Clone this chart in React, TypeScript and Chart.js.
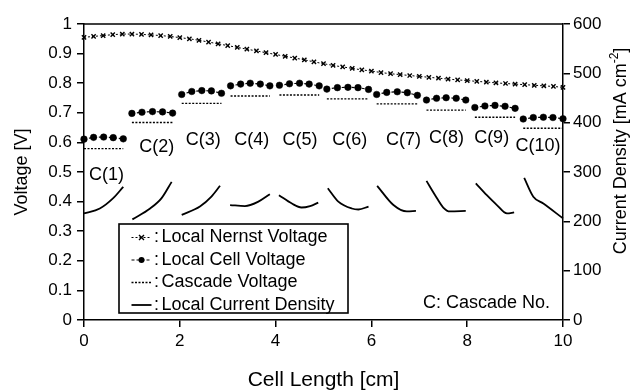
import React, { useEffect, useRef } from "react";
import { Chart, registerables } from "chart.js";

Chart.register(...registerables);

const FONT = "'Liberation Sans', Arial, Helvetica, sans-serif";

// Local Nernst voltage [V] along the cell length [cm]
const nernstX = [
  0, 0.2, 0.4, 0.6, 0.8, 1.0, 1.2, 1.4, 1.6, 1.8, 2.0, 2.2, 2.4, 2.6, 2.8, 3.0, 3.2,
  3.4, 3.6, 3.8, 4.0, 4.2, 4.4, 4.6, 4.8, 5.0, 5.2, 5.4, 5.6, 5.8, 6.0, 6.2, 6.4,
  6.6, 6.8, 7.0, 7.2, 7.4, 7.6, 7.8, 8.0, 8.2, 8.4, 8.6, 8.8, 9.0, 9.2, 9.4, 9.6,
  9.8, 10.0,
];
const nernstV = [
  0.955, 0.958, 0.961, 0.964, 0.966, 0.966, 0.965, 0.963, 0.961, 0.958, 0.954,
  0.95, 0.945, 0.939, 0.933, 0.927, 0.921, 0.915, 0.909, 0.903, 0.897, 0.891,
  0.885, 0.879, 0.872, 0.866, 0.86, 0.855, 0.85, 0.845, 0.841, 0.836, 0.832,
  0.829, 0.826, 0.823, 0.82, 0.817, 0.814, 0.811, 0.809, 0.806, 0.804, 0.801,
  0.799, 0.797, 0.795, 0.793, 0.791, 0.789, 0.786,
];

// Cascades
const cascadeNames = ["C(1)", "C(2)", "C(3)", "C(4)", "C(5)", "C(6)", "C(7)", "C(8)", "C(9)", "C(10)"];
const cascadeStart = [0, 1.0, 2.04, 3.06, 4.08, 5.07, 6.11, 7.15, 8.16, 9.17];
const cascadeEnd = [0.82, 1.85, 2.87, 3.88, 4.91, 5.94, 6.96, 7.97, 9.0, 10.0];
const cascadeVoltage = [0.579, 0.667, 0.732, 0.757, 0.76, 0.747, 0.73, 0.709, 0.685, 0.648];

// Local cell voltage [V]
const cellX = [
  [0, 0.2, 0.41, 0.61, 0.82],
  [1.0, 1.21, 1.43, 1.64, 1.85],
  [2.04, 2.25, 2.46, 2.66, 2.87],
  [3.06, 3.27, 3.47, 3.68, 3.88],
  [4.08, 4.29, 4.5, 4.7, 4.91],
  [5.07, 5.29, 5.51, 5.72, 5.94],
  [6.11, 6.32, 6.54, 6.75, 6.96],
  [7.15, 7.36, 7.56, 7.77, 7.97],
  [8.16, 8.37, 8.58, 8.79, 9.0],
  [9.17, 9.38, 9.59, 9.79, 10.0],
];
const cellV = [
  [0.611, 0.617, 0.618, 0.616, 0.612],
  [0.698, 0.702, 0.704, 0.703, 0.699],
  [0.762, 0.772, 0.775, 0.774, 0.766],
  [0.791, 0.797, 0.8, 0.797, 0.791],
  [0.793, 0.798, 0.8, 0.797, 0.791],
  [0.78, 0.785, 0.786, 0.785, 0.779],
  [0.762, 0.769, 0.771, 0.768, 0.759],
  [0.743, 0.749, 0.751, 0.749, 0.743],
  [0.718, 0.723, 0.725, 0.722, 0.715],
  [0.679, 0.684, 0.685, 0.684, 0.68],
];

// Local current density [mA cm-2]
const currentX = [
  [0, 0.33, 0.61, 0.82],
  [1.01, 1.38, 1.62, 1.83],
  [2.04, 2.42, 2.66, 2.84],
  [3.05, 3.36, 3.64, 3.88],
  [4.07, 4.34, 4.54, 4.72, 4.89],
  [5.09, 5.31, 5.59, 5.73, 5.94],
  [6.12, 6.46, 6.74, 6.93],
  [7.15, 7.33, 7.5, 7.64, 7.97],
  [8.18, 8.41, 8.62, 8.83, 8.98],
  [9.19, 9.38, 9.59, 10.0],
];
const currentI = [
  [216, 226, 247, 270],
  [204, 226, 247, 280],
  [213, 230, 250, 272],
  [233, 231, 240, 255],
  [253, 236, 228, 231, 238],
  [267, 240, 226, 224, 230],
  [272, 233, 220, 221],
  [282, 253, 228, 220, 221],
  [277, 253, 233, 216, 218],
  [288, 250, 236, 206],
];

// Cascade label anchors (cell length, voltage)
const labelX = [0.47, 1.52, 2.49, 3.5, 4.51, 5.55, 6.67, 7.57, 8.51, 9.48];
const labelV = [0.49, 0.585, 0.608, 0.608, 0.608, 0.608, 0.608, 0.615, 0.615, 0.588];

const legendItems = ["Local Nernst Voltage", "Local Cell Voltage", "Cascade Voltage", "Local Current Density"];

const decorPlugin = {
  id: "decor",
  afterDraw(chart: any) {
    const { ctx, chartArea: a, scales } = chart;
    const xs = scales.x;
    const ys = scales.y;
    ctx.save();
    ctx.strokeStyle = "#000";
    ctx.fillStyle = "#000";
    // top frame line
    ctx.lineWidth = 1.5;
    ctx.beginPath();
    ctx.moveTo(a.left, a.top);
    ctx.lineTo(a.right, a.top);
    ctx.stroke();

    // cascade labels
    ctx.font = `18px ${FONT}`;
    ctx.textAlign = "center";
    ctx.textBaseline = "middle";
    cascadeNames.forEach((n, i) => {
      ctx.fillText(n, xs.getPixelForValue(labelX[i]), ys.getPixelForValue(labelV[i]));
    });

    // "C: Cascade No."
    ctx.textAlign = "right";
    ctx.fillText("C: Cascade No.", a.right - 13, a.bottom - 17);

    // legend box
    const bl = a.left + 35;
    const bt = a.top + 200;
    const br = a.left + 264;
    const bb = a.bottom - 7;
    ctx.lineWidth = 1.6;
    ctx.fillStyle = "#fff";
    ctx.fillRect(bl, bt, br - bl, bb - bt);
    ctx.strokeRect(bl, bt, br - bl, bb - bt);
    ctx.fillStyle = "#000";
    legendItems.forEach((t, i) => {
      const y = bt + 13.5 + i * 22.5;
      const sx0 = bl + 12.5;
      const sx1 = bl + 32.5;
      const mx = (sx0 + sx1) / 2;
      ctx.save();
      ctx.beginPath();
      if (i === 0) {
        ctx.setLineDash([2, 2]);
        ctx.lineWidth = 1;
      } else if (i === 1) {
        ctx.setLineDash([3, 2]);
        ctx.lineWidth = 1.2;
      } else if (i === 2) {
        ctx.setLineDash([2, 1.5]);
        ctx.lineWidth = 1.4;
      } else {
        ctx.setLineDash([]);
        ctx.lineWidth = 1.8;
      }
      ctx.moveTo(sx0, y);
      ctx.lineTo(sx1, y);
      ctx.stroke();
      ctx.setLineDash([]);
      if (i === 0) {
        ctx.lineWidth = 1.4;
        ctx.beginPath();
        ctx.moveTo(mx - 2.5, y - 2.5);
        ctx.lineTo(mx + 2.5, y + 2.5);
        ctx.moveTo(mx - 2.5, y + 2.5);
        ctx.lineTo(mx + 2.5, y - 2.5);
        ctx.stroke();
      } else if (i === 1) {
        ctx.beginPath();
        ctx.arc(mx, y, 3, 0, Math.PI * 2);
        ctx.fill();
      }
      ctx.restore();
      ctx.textAlign = "left";
      ctx.textBaseline = "middle";
      ctx.font = `18px ${FONT}`;
      ctx.fillText(":", bl + 35, y);
      ctx.fillText(t, bl + 42.5, y);
    });

    // axis titles
    ctx.textAlign = "center";
    ctx.textBaseline = "middle";
    ctx.font = `21px ${FONT}`;
    ctx.fillText("Cell Length [cm]", (a.left + a.right) / 2, 380);

    ctx.font = `18px ${FONT}`;
    ctx.save();
    ctx.translate(22, (a.top + a.bottom) / 2);
    ctx.rotate(-Math.PI / 2);
    ctx.fillText("Voltage [V]", 0, 0);
    ctx.restore();

    // right title with superscript
    ctx.save();
    ctx.translate(621, 151);
    ctx.rotate(-Math.PI / 2);
    ctx.textAlign = "left";
    ctx.textBaseline = "middle";
    const p1 = "Current Density [mA cm";
    const p2 = "-2";
    const p3 = "]";
    ctx.font = `18px ${FONT}`;
    const w1 = ctx.measureText(p1).width;
    const w3 = ctx.measureText(p3).width;
    ctx.font = `12px ${FONT}`;
    const w2 = ctx.measureText(p2).width;
    const total = w1 + w2 + w3;
    let x = -total / 2;
    ctx.font = `18px ${FONT}`;
    ctx.fillText(p1, x, 0);
    x += w1;
    ctx.font = `12px ${FONT}`;
    ctx.fillText(p2, x, -6);
    x += w2;
    ctx.font = `18px ${FONT}`;
    ctx.fillText(p3, x, 0);
    ctx.restore();

    ctx.restore();
  },
};

export default function App() {
  const ref = useRef<HTMLCanvasElement | null>(null);

  useEffect(() => {
    if (!ref.current) return;
    const datasets: any[] = [];

    datasets.push({
      label: "Local Nernst Voltage",
      data: nernstX.map((x, i) => ({ x, y: nernstV[i] })),
      yAxisID: "y",
      borderColor: "#000",
      backgroundColor: "#000",
      borderWidth: 1,
      borderDash: [2, 2],
      pointStyle: "crossRot",
      pointRadius: 3,
      pointBorderWidth: 1.4,
      clip: false,
    });

    cellX.forEach((xsArr, k) => {
      datasets.push({
        label: "Local Cell Voltage",
        data: xsArr.map((x, i) => ({ x, y: cellV[k][i] })),
        yAxisID: "y",
        borderColor: "#000",
        backgroundColor: "#000",
        borderWidth: 1.2,
        borderDash: [3, 2],
        pointStyle: "circle",
        pointRadius: 3.3,
        pointBorderWidth: 0.5,
        clip: false,
      });
      datasets.push({
        label: "Cascade Voltage",
        data: [
          { x: cascadeStart[k], y: cascadeVoltage[k] },
          { x: cascadeEnd[k], y: cascadeVoltage[k] },
        ],
        yAxisID: "y",
        borderColor: "#000",
        borderWidth: 1.4,
        borderDash: [2, 1.5],
        pointRadius: 0,
        clip: false,
      });
      datasets.push({
        label: "Local Current Density",
        data: currentX[k].map((x, i) => ({ x, y: currentI[k][i] })),
        yAxisID: "y2",
        borderColor: "#000",
        borderWidth: 1.8,
        pointRadius: 0,
        cubicInterpolationMode: "monotone",
        clip: false,
      });
    });

    const tickFont = { family: FONT, size: 17 };
    const fmtV = (v: any) => {
      const n = Number(v);
      if (Math.abs(n) < 1e-9) return "0";
      if (Math.abs(n - 1) < 1e-9) return "1";
      return n.toFixed(1);
    };
    const chart = new Chart(ref.current, {
      type: "line",
      data: { datasets },
      options: {
        animation: false,
        responsive: false,
        maintainAspectRatio: false,
        layout: { padding: { top: 24, left: 0, right: 0, bottom: 0 } },
        plugins: { legend: { display: false }, tooltip: { enabled: false } },
        scales: {
          x: {
            type: "linear",
            min: 0,
            max: 10,
            ticks: { stepSize: 2, color: "#000", font: tickFont, padding: 4, maxRotation: 0 },
            grid: { drawOnChartArea: false, drawTicks: true, tickLength: 7, color: "#000", lineWidth: 1.5 },
            border: { display: true, color: "#000", width: 1.5 },
            afterFit: (s: any) => {
              s.height = 72;
            },
          },
          y: {
            type: "linear",
            position: "left",
            min: 0,
            max: 1,
            ticks: { stepSize: 0.1, color: "#000", font: tickFont, padding: 5, callback: fmtV },
            grid: { drawOnChartArea: false, drawTicks: true, tickLength: 7, color: "#000", lineWidth: 1.5 },
            border: { display: true, color: "#000", width: 1.5 },
            afterFit: (s: any) => {
              s.width = 84;
            },
          },
          y2: {
            type: "linear",
            position: "right",
            min: 0,
            max: 600,
            ticks: { stepSize: 100, color: "#000", font: tickFont, padding: 3 },
            grid: { drawOnChartArea: false, drawTicks: true, tickLength: 7, color: "#000", lineWidth: 1.5 },
            border: { display: true, color: "#000", width: 1.5 },
            afterFit: (s: any) => {
              s.width = 71;
            },
          },
        },
      } as any,
      plugins: [decorPlugin],
    });
    return () => chart.destroy();
  }, []);

  return (
    <div style={{ position: "fixed", left: 0, top: 0, width: 634, height: 392, background: "#fff" }}>
      <canvas ref={ref} width={634} height={392} style={{ display: "block", width: 634, height: 392 }} />
    </div>
  );
}
